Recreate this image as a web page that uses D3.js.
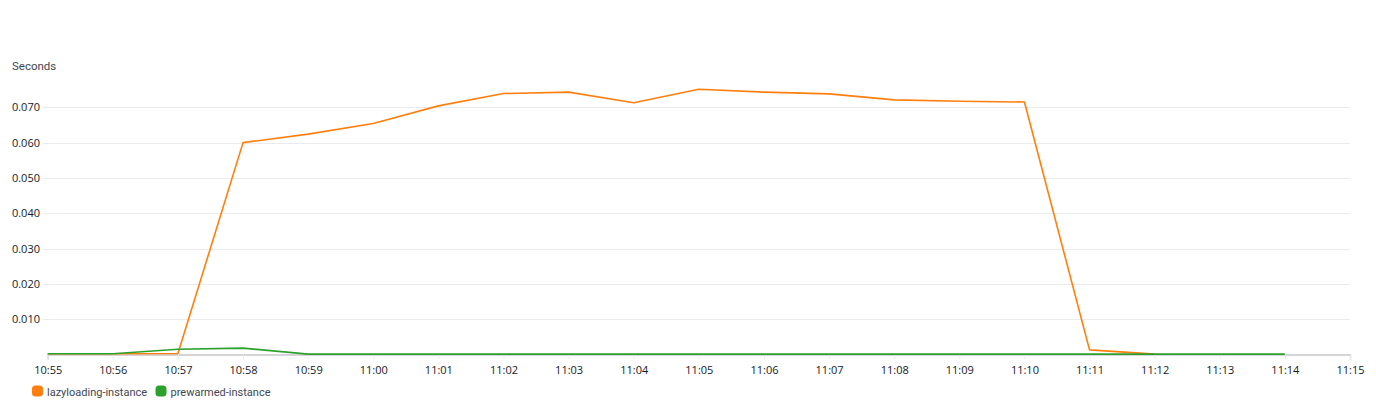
<!DOCTYPE html>
<html>
<head>
<meta charset="utf-8">
<script src="https://cdn.jsdelivr.net/npm/d3@7"></script>
<style>
  html, body { margin: 0; padding: 0; background: #fff; }
  svg { display: block; font-family: "Open Sans", "Noto Sans", sans-serif; }
</style>
</head>
<body>
<svg id="chart" width="1376" height="417"></svg>
<script>
const timeLabels = ["10:55","10:56","10:57","10:58","10:59","11:00","11:01","11:02","11:03","11:04","11:05","11:06","11:07","11:08","11:09","11:10","11:11","11:12","11:13","11:14","11:15"];
const yTicks = [0.010, 0.020, 0.030, 0.040, 0.050, 0.060, 0.070];
const lazyValues = [0.0002, 0.0002, 0.0003, 0.0600, 0.0624, 0.0654, 0.0704, 0.0739, 0.0743, 0.0713, 0.0751, 0.0743, 0.0738, 0.0721, 0.0717, 0.0715, 0.0013, 0.0001];
const prewarmedValues = [0.0002, 0.0002, 0.0015, 0.0018, 0.0001, 0.0001, 0.0001, 0.0001, 0.0001, 0.0001, 0.0001, 0.0001, 0.0001, 0.0001, 0.0001, 0.0001, 0.0001, 0.0001, 0.0001, 0.0001];
const seriesNames = ["lazyloading-instance", "prewarmed-instance"];
const seriesColors = ["#ff7f0e", "#2ca02c"];

const svg = d3.select("#chart");
const x = d3.scalePoint().domain(timeLabels).range([47.7, 1350]);
const y = d3.scaleLinear().domain([0, 0.07]).range([354.5, 107.3]);

// Y label
svg.append("text").attr("x", 12).attr("y", 70)
  .attr("font-size", 11.5).attr("fill", "#414750")
  .attr("font-family", "Roboto, 'Open Sans', sans-serif").text("Seconds");

// gridlines
const grid = svg.append("g");
grid.selectAll("line").data(yTicks).join("line")
  .attr("x1", 43).attr("x2", 1350)
  .attr("y1", d => Math.round(y(d)) + 0.5).attr("y2", d => Math.round(y(d)) + 0.5)
  .attr("stroke", "#e9ebed").attr("stroke-width", 1);

// y axis labels
const yAxis = d3.axisLeft(y).tickValues(yTicks).tickFormat(d3.format(".3f")).tickSize(0).tickPadding(0);
const gy = svg.append("g").attr("transform", "translate(40,0)").call(yAxis);
gy.select(".domain").remove();
gy.selectAll("text").attr("font-size", 11).attr("fill", "#16191f")
  .attr("font-family", "'Open Sans', 'Noto Sans', sans-serif");

// x axis
const xAxis = d3.axisBottom(x).tickSize(5).tickPadding(7);
const gx = svg.append("g").attr("transform", "translate(0,354.5)").call(xAxis);
gx.select(".domain").attr("stroke", "#c6c6cd").attr("stroke-width", 1.5);
gx.selectAll(".tick line").attr("stroke", "#e9ebed");
gx.selectAll("text").attr("font-size", 11).attr("fill", "#16191f")
  .attr("font-family", "'Open Sans', 'Noto Sans', sans-serif");

// lines
const line = d3.line().x((d, i) => x(timeLabels[i])).y(d => y(d));
[lazyValues, prewarmedValues].forEach((vals, k) => {
  svg.append("path").datum(vals)
    .attr("d", line)
    .attr("fill", "none")
    .attr("stroke", seriesColors[k])
    .attr("stroke-width", 1.6)
    .attr("stroke-linejoin", "round");
});

// legend
const legendX = [32, 155.5];
const leg = svg.append("g");
seriesNames.forEach((name, k) => {
  const g = leg.append("g").attr("transform", `translate(${legendX[k]},385.5)`);
  g.append("rect").attr("width", 11).attr("height", 11).attr("rx", 3.5)
    .attr("fill", seriesColors[k]);
  g.append("text").attr("x", 15).attr("y", 10)
    .attr("font-size", 11).attr("fill", "#414750")
    .attr("font-family", "Roboto, 'Open Sans', sans-serif").text(name);
});
</script>
</body>
</html>
